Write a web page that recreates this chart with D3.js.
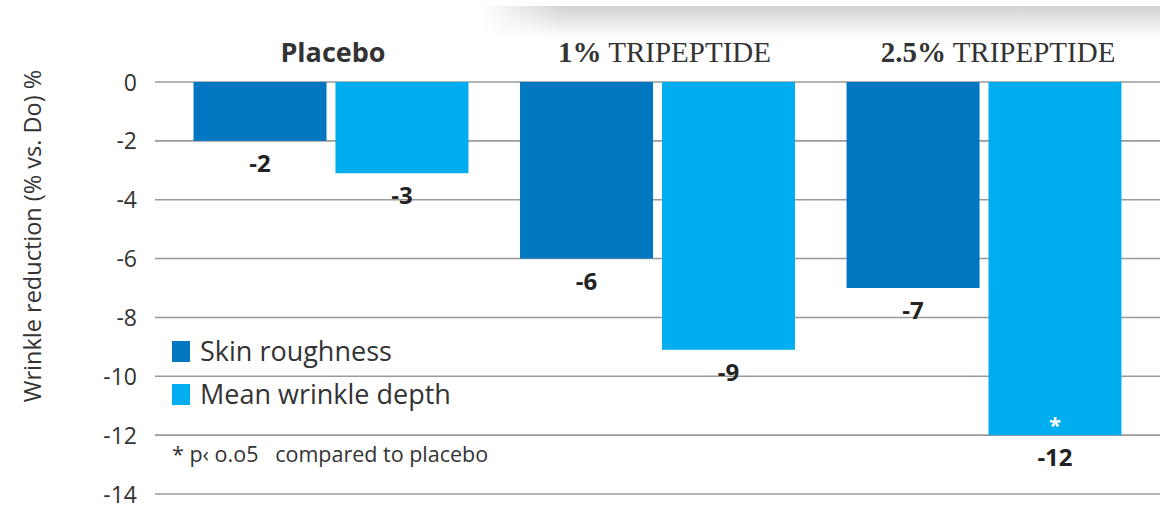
<!DOCTYPE html>
<html><head><meta charset="utf-8">
<script src="https://cdn.jsdelivr.net/npm/d3@7/dist/d3.min.js"></script>
<style>body{margin:0;background:#fff}svg{display:block}</style>
</head><body>
<svg id="c" width="1160" height="510"></svg>
<script>
const groups = ["Placebo", "1% TRIPEPTIDE", "2.5% TRIPEPTIDE"];
const series = ["Skin roughness", "Mean wrinkle depth"];
const skinRoughness = [-2, -6, -7];
const meanWrinkleDepth = [-3.1, -9.1, -12];
const valueLabels = [["-2", "-6", "-7"], ["-3", "-9", "-12"]];
const significant = [[false, false, false], [false, false, true]];
const yTicks = [0, -2, -4, -6, -8, -10, -12, -14];
const colors = ["#0077c0", "#00aeef"];

const svg = d3.select("#c");
const W = 1160, H = 510;
const SANS = "Open Sans, sans-serif";
const TITLE_SHIFT = { "Placebo": 2, "1% TRIPEPTIDE": 7, "2.5% TRIPEPTIDE": 14 };

// top shadow decoration
const defs = svg.append("defs");
const gv = defs.append("linearGradient").attr("id","gv").attr("x1",0).attr("y1",0).attr("x2",0).attr("y2",1);
gv.append("stop").attr("offset","0").attr("stop-color","#d2d2d2");
gv.append("stop").attr("offset","1").attr("stop-color","#ffffff");
const gh = defs.append("linearGradient").attr("id","gh").attr("x1",0).attr("y1",0).attr("x2",1).attr("y2",0);
gh.append("stop").attr("offset","0").attr("stop-color","#fff").attr("stop-opacity",0);
gh.append("stop").attr("offset","0.12").attr("stop-color","#fff").attr("stop-opacity",1);
const mask = defs.append("mask").attr("id","mk");
mask.append("rect").attr("x",480).attr("y",0).attr("width",680).attr("height",40).attr("fill","url(#gh)");
svg.append("rect").attr("x",480).attr("y",6).attr("width",680).attr("height",32)
  .attr("fill","url(#gv)").attr("mask","url(#mk)");

const y = d3.scaleLinear().domain([0, -14]).range([82, 494]);
const x0 = d3.scaleBand().domain(groups).range([155, 1160]).paddingInner(0.158).paddingOuter(0.118);
const x1 = d3.scaleBand().domain(series).range([0, x0.bandwidth()]).paddingInner(0.063);

// gridlines
svg.append("g").selectAll("line").data(yTicks).join("line")
  .attr("x1",155).attr("x2",W).attr("y1",d=>y(d)).attr("y2",d=>y(d))
  .attr("stroke","#9a9a9a").attr("stroke-width",1.6);

// y axis labels
const yAxis = d3.axisLeft(y).tickValues(yTicks).tickSize(0).tickPadding(0).tickFormat(d=>d===0?"0":String(d));
const ya = svg.append("g").attr("transform","translate(137,0)").call(yAxis);
ya.select(".domain").remove();
ya.selectAll("text").attr("font-family",SANS).attr("font-size",23).attr("fill","#333").attr("dy","0.35em");

// y title
svg.append("text").attr("transform","translate(41,236) rotate(-90)").attr("text-anchor","middle")
  .attr("font-family",SANS).attr("font-size",23.5).attr("fill","#333")
  .text("Wrinkle reduction (% vs. Do) %");

// bars
const data = groups.map((g,i)=>[
  {g, s:series[0], v:skinRoughness[i], lab:valueLabels[0][i], sig:significant[0][i], c:colors[0]},
  {g, s:series[1], v:meanWrinkleDepth[i], lab:valueLabels[1][i], sig:significant[1][i], c:colors[1]}
]).flat();

svg.append("g").selectAll("rect").data(data).join("rect")
  .attr("x",d=>x0(d.g)+x1(d.s)).attr("width",x1.bandwidth())
  .attr("y",y(0)).attr("height",d=>y(d.v)-y(0)).attr("fill",d=>d.c);

svg.append("g").selectAll("text").data(data).join("text")
  .attr("x",d=>x0(d.g)+x1(d.s)+x1.bandwidth()/2).attr("y",d=>y(d.v)+31)
  .attr("text-anchor","middle").attr("font-family",SANS).attr("font-weight",700)
  .attr("font-size",24).attr("fill","#222").text(d=>d.lab);

svg.append("g").selectAll("text").data(data.filter(d=>d.sig)).join("text")
  .attr("x",d=>x0(d.g)+x1(d.s)+x1.bandwidth()/2).attr("y",d=>y(d.v)-2)
  .attr("text-anchor","middle").attr("font-family",SANS).attr("font-weight",700)
  .attr("font-size",22).attr("fill","#fff").text("*");

// group titles
const gt = svg.append("g").selectAll("text").data(groups).join("text")
  .attr("x",g=>x0(g)+x0.bandwidth()/2+TITLE_SHIFT[g]).attr("y",62).attr("text-anchor","middle")
  .attr("fill","#333");
gt.each(function(g){
  const t = d3.select(this);
  if (g === "Placebo") {
    t.attr("font-family",SANS).attr("font-weight",700).attr("font-size",27).text(g);
  } else {
    const parts = g.split(" ");
    t.attr("font-family","Liberation Serif, serif").attr("font-size",29);
    t.append("tspan").attr("font-weight",700).text(parts[0]);
    t.append("tspan").text(" " + parts.slice(1).join(" "));
  }
});

// legend
const lg = svg.append("g").selectAll("g").data(series).join("g")
  .attr("transform",(d,i)=>`translate(172,${341+i*43})`);
lg.append("rect").attr("width",18).attr("height",21).attr("fill",(d,i)=>colors[i]);
lg.append("text").attr("x",28).attr("y",20).attr("font-family",SANS)
  .attr("font-size",27).attr("fill","#333").text(d=>d);

// footnote
svg.append("text").attr("x",172).attr("y",462).attr("font-family",SANS)
  .attr("font-size",21.5).attr("fill","#333").attr("xml:space","preserve").text("* p‹ o.o5   compared to placebo");
</script>
</body></html>
